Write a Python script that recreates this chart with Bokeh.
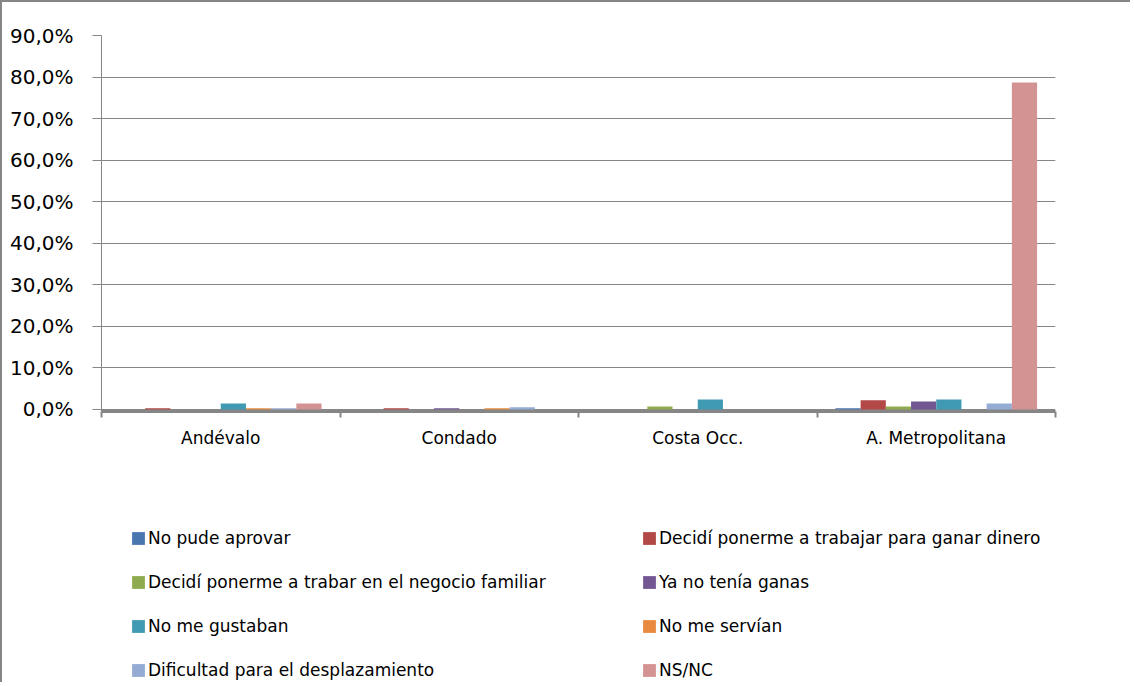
from bokeh.plotting import figure
from bokeh.layouts import column
from bokeh.models import ColumnDataSource, FixedTicker, Range1d, Legend, LegendItem
from bokeh.transform import dodge
from bokeh.embed import file_html
from bokeh.resources import INLINE

categories = ["Andévalo", "Condado", "Costa Occ.", "A. Metropolitana"]
series_names = [
    "No pude aprovar",
    "Decidí ponerme a trabajar para ganar dinero",
    "Decidí ponerme a trabar en el negocio familiar",
    "Ya no tenía ganas",
    "No me gustaban",
    "No me servían",
    "Dificultad para el desplazamiento",
    "NS/NC",
]
no_pude_aprovar = [0.0, 0.0, 0.0, 0.3]
trabajar_dinero = [0.3, 0.3, 0.0, 2.2]
negocio_familiar = [0.0, 0.0, 0.7, 0.7]
ya_no_ganas = [0.0, 0.3, 0.0, 1.9]
no_me_gustaban = [1.4, 0.0, 2.4, 2.4]
no_me_servian = [0.3, 0.3, 0.0, 0.0]
dificultad_desplazamiento = [0.3, 0.5, 0.0, 1.4]
ns_nc = [1.4, 0.0, 0.0, 78.7]
series_values = [no_pude_aprovar, trabajar_dinero, negocio_familiar, ya_no_ganas,
                 no_me_gustaban, no_me_servian, dificultad_desplazamiento, ns_nc]
y_ticks = [0, 10, 20, 30, 40, 50, 60, 70, 80, 90]
y_tick_labels = ["0,0%", "10,0%", "20,0%", "30,0%", "40,0%", "50,0%", "60,0%", "70,0%", "80,0%", "90,0%"]

colors = ["#4A76B0", "#B24946", "#8FAB4F", "#735793", "#409AB3", "#E98B3E", "#94ABD4", "#D49393"]
GRAY = "#868686"

data = {"x": list(range(len(categories)))}
for k, vals in enumerate(series_values):
    data[f"s{k}"] = vals
src = ColumnDataSource(data)

W = 1130
p = figure(width=W, height=470, output_backend="svg", toolbar_location=None,
           x_range=Range1d(-0.5, len(categories) - 0.5), y_range=Range1d(-0.5, 90),
           min_border_left=99, min_border_right=77, min_border_top=33, min_border_bottom=61)
p.styles = {"border-top": f"2px solid {GRAY}", "border-left": f"2px solid {GRAY}"}
p.outline_line_color = None
p.background_fill_color = "white"
p.border_fill_color = "white"

bw = 0.1057
for k, name in enumerate(series_names):
    off = (k - 3.5) * bw
    p.vbar(x=dodge("x", off), top=f"s{k}", bottom=0, width=bw, source=src,
           fill_color=colors[k], line_color=None)

# y axis
p.yaxis.ticker = FixedTicker(ticks=y_ticks, minor_ticks=[])
p.yaxis.major_label_overrides = {t: l for t, l in zip(y_ticks, y_tick_labels)}
p.yaxis.major_label_text_font = "DejaVu Sans"
p.yaxis.major_label_text_font_size = "20px"
p.yaxis.major_label_text_color = "#000000"
p.yaxis.major_tick_out = 9
p.yaxis.major_tick_in = 0
p.yaxis.major_tick_line_color = GRAY
p.yaxis.axis_line_color = GRAY
p.yaxis.major_label_standoff = 19

# x axis
p.xaxis.ticker = FixedTicker(ticks=list(range(len(categories))),
                             minor_ticks=[i - 0.5 for i in range(len(categories) + 1)])
p.xaxis.major_label_overrides = {i: c for i, c in enumerate(categories)}
p.xaxis.major_label_text_font = "DejaVu Sans"
p.xaxis.major_label_text_font_size = "17px"
p.xaxis.major_label_text_color = "#000000"
p.xaxis.major_tick_out = 0
p.xaxis.major_tick_in = 0
p.xaxis.minor_tick_out = 6
p.xaxis.minor_tick_in = 0
p.xaxis.minor_tick_line_color = GRAY
p.xaxis.minor_tick_line_width = 2
p.xaxis.axis_line_color = GRAY
p.xaxis.axis_line_width = 3
p.xaxis.major_label_standoff = 10

p.xgrid.visible = False
p.ygrid.ticker = FixedTicker(ticks=y_ticks, minor_ticks=[])
p.ygrid.grid_line_color = GRAY
p.ygrid.grid_line_width = 1

# legend panel (separate figure below the chart; its frame aligns with the chart's frame)
pl = figure(width=W, height=212, output_backend="svg", toolbar_location=None,
            x_axis_type=None, y_axis_type=None,
            x_range=Range1d(100, 101), y_range=Range1d(100, 101),
            min_border_left=99, min_border_right=77, min_border_top=0, min_border_bottom=0)
pl.styles = {"border-left": f"2px solid {GRAY}"}
pl.outline_line_color = None
pl.grid.visible = False
pl.background_fill_color = "white"
pl.border_fill_color = "white"

items = []
for k, name in enumerate(series_names):
    r = pl.vbar(x="x", top=f"s{k}", width=bw, source=src, fill_color=colors[k], line_color=None)
    items.append(LegendItem(label=name, renderers=[r]))

legend = Legend(items=items, orientation="horizontal", ncols=2,
                location=(29, 2), padding=0, margin=0,
                border_line_color=None, background_fill_alpha=0,
                glyph_width=16, glyph_height=16, label_height=20,
                label_width=469, spacing=24, label_standoff=2,
                label_text_font="DejaVu Sans", label_text_font_size="17px",
                label_text_color="#000000")
pl.add_layout(legend)

layout = column(p, pl, spacing=0)
open("out.html", "w").write(file_html(layout, INLINE))
